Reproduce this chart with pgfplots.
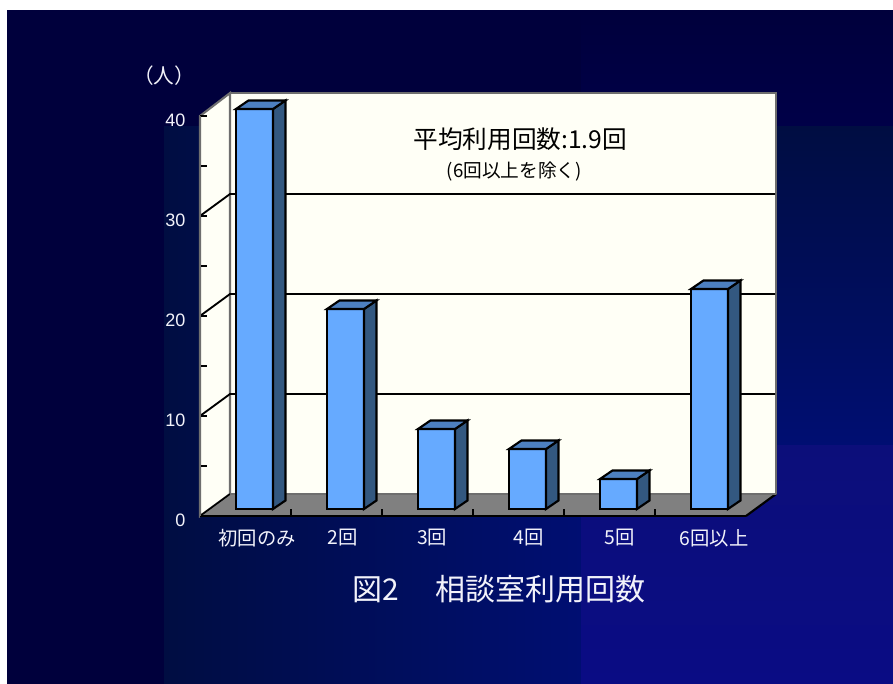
\documentclass[border=0pt]{standalone}
\usepackage{fontspec}
\usepackage{pgfplots}
\pgfplotsset{compat=1.18}
\setmainfont{Liberation Sans}
\newfontfamily\jp{Noto Sans CJK JP}
\definecolor{inkwhite}{HTML}{F2F2FA}
\definecolor{wall}{HTML}{FFFFF6}
\definecolor{frame}{HTML}{6E6E6E}
\definecolor{floorgrey}{HTML}{808080}
\definecolor{barfront}{HTML}{66AAFF}
\definecolor{bartop}{HTML}{4D80C0}
\definecolor{barside}{HTML}{335880}
\definecolor{bgbase}{HTML}{00003C}
\definecolor{bgtop}{HTML}{000048}
\definecolor{bgmid}{HTML}{000D42}
\definecolor{bgdeep}{HTML}{000E72}
\definecolor{bglight}{HTML}{0C0E7A}
\definecolor{bglighter}{HTML}{0A0C84}

% Depth of the oblique projection, in axis units
\def\hw{0.2033}
\def\dx{0.137}
\def\dy{0.85}
% Top and side faces of one bar: category index, value
\newcommand{\barfaces}[2]{%
  \addplot[draw=black,line width=1.6pt,fill=barside,xshift=6.75pt,yshift=5.25pt,forget plot]
    coordinates {({#1+\hw},0) ({#1+\hw+\dx},\dy) ({#1+\hw+\dx},{#2+\dy}) ({#1+\hw},#2)} -- cycle;
  \addplot[draw=black,line width=1.6pt,fill=bartop,xshift=6.75pt,yshift=5.25pt,forget plot]
    coordinates {({#1-\hw},#2) ({#1+\hw},#2) ({#1+\hw+\dx},{#2+\dy}) ({#1-\hw+\dx},{#2+\dy})} -- cycle;
}

\begin{document}
\begin{tikzpicture}
  % Slide background, built from stepped gradient blocks
  \begin{scope}[x=0.75pt,y=-0.75pt]
    \fill[white] (0,0) rectangle (893,684);
    \fill[bgbase] (7,10) rectangle (893,684);
    \shade[top color=bgbase,bottom color=bgtop] (581,10) rectangle (893,127);
    \shade[left color=bgmid,right color=bgdeep] (164,127) rectangle (581,684);
    \shade[top color=bgmid,bottom color=bgdeep] (581,127) rectangle (893,445);
    \shade[top color=bglight,bottom color=bglighter] (581,445) rectangle (893,684);
    \fill[white] (0,0) rectangle (893,10);
  \end{scope}

  \begin{axis}[
    at={(150pt,-387pt)},anchor=south west,
    scale only axis,width=409.5pt,height=300pt,
    xmin=-0.5,xmax=5.5,ymin=0,ymax=40,
    clip=false,axis on top,
    axis x line=bottom,axis y line=left,
    axis line style={-},
    x axis line style={black,line width=2pt},
    y axis line style={frame,line width=1.6pt},
    xtick={0.5,1.5,2.5,3.5,4.5},xticklabels={},
    extra x ticks={0.128,1.07,2.05,3.115,4.115,5.15},
    extra x tick labels={初回のみ,2回,3回,4回,5回,6回以上},
    extra x tick style={major tick length=0pt,
      tick label style={font=\jp\fontsize{14.5}{16}\selectfont,text=inkwhite,yshift=-6.5pt}},
    ytick={0,10,20,30,40},
    minor y tick num=1,
    xtick align=inside,ytick align=inside,
    major tick length=5.25pt,minor tick length=5.25pt,
    tick style={black,line width=0.9pt},
    yticklabel style={font=\fontsize{13.5}{15}\selectfont,text=inkwhite,
      /pgf/number format/assume math mode=true,xshift=-7.5pt,yshift=-3pt},
  ]
    % Back wall, left wall and floor of the chart box
    \addplot[draw=frame,line width=1.6pt,fill=wall,forget plot]
      coordinates {(-0.17,2.2) (5.83,2.2) (5.83,42.3) (-0.17,42.3)} -- cycle;
    \addplot[draw=frame,line width=1.6pt,fill=wall,forget plot]
      coordinates {(-0.5,0) (-0.17,2.2) (-0.17,42.3) (-0.5,40)} -- cycle;
    \addplot[draw=none,fill=floorgrey,forget plot]
      coordinates {(-0.5,0) (5.5,0) (5.83,2.2) (-0.17,2.2)} -- cycle;
    \addplot[black,line width=1.6pt,forget plot]
      coordinates {(5.5,0) (5.83,2.2)};
    \addplot[black,line width=1.2pt,forget plot]
      coordinates {(-0.5,0) (-0.17,2.2)};
    \addplot[frame,line width=1.4pt,forget plot]
      coordinates {(-0.17,2.2) (5.83,2.2)};
    % Grid on the two walls
    \addplot[black,line width=1.4pt,forget plot] coordinates {(-0.5,10) (-0.17,12.2) (5.82,12.2)};
    \addplot[black,line width=1.4pt,forget plot] coordinates {(-0.5,20) (-0.17,22.2) (5.82,22.2)};
    \addplot[black,line width=1.4pt,forget plot] coordinates {(-0.5,30) (-0.17,32.2) (5.82,32.2)};
    % Counts per category
    \addplot[ybar,bar width=27.75pt,bar shift=0pt,draw=black,line width=1.6pt,fill=barfront,
      xshift=6.75pt,yshift=5.25pt]
      coordinates {(0,40) (1,20) (2,8) (3,6) (4,3) (5,22)};
    \barfaces{0}{40}
    \barfaces{1}{20}
    \barfaces{2}{8}
    \barfaces{3}{6}
    \barfaces{4}{3}
    \barfaces{5}{22}
    \node[font=\jp\fontsize{18.5}{20}\selectfont,text=black] at (axis cs:3.02,37.7) {平均利用回数:1.9回};
    \node[font=\jp\fontsize{14}{16}\selectfont,text=black] at (axis cs:2.955,34.4) {(6回以上を除く)};
  \end{axis}

  \begin{scope}[x=0.75pt,y=-0.75pt]
    \node[font=\jp\fontsize{15.5}{17}\selectfont,text=inkwhite] at (164,76) {（人）};
    \node[font=\jp\fontsize{22.5}{25}\selectfont,text=inkwhite] at (499,589) {図2\hspace{1.2em}相談室利用回数};
  \end{scope}
\end{tikzpicture}
\end{document}
